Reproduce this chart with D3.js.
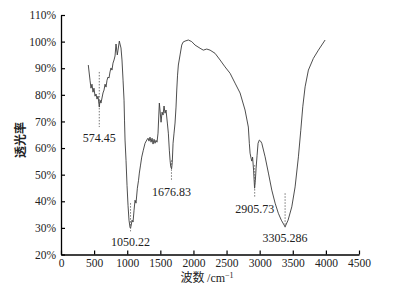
<!DOCTYPE html>
<html><head><meta charset="utf-8">
<script src="https://cdn.jsdelivr.net/npm/d3@7/dist/d3.min.js"></script>
<style>body{margin:0;background:#fff}svg{display:block}</style>
</head><body>
<svg id="c" width="399" height="293"></svg>
<script>
const wavenumber = [412,438,453,468,483,498,514,529,544,559,579,589,604,619,634,650,665,680,695,710,725,740,755,770,785,801,816,831,850,861,881,891,906,921,937,952,959,967,982,997,1012,1027,1042,1050,1057,1073,1088,1103,1118,1133,1153,1171,1183,1201,1219,1243,1269,1295,1314,1329,1344,1360,1375,1390,1405,1420,1435,1450,1465,1485,1495,1511,1526,1541,1556,1571,1586,1606,1621,1636,1647,1657,1670,1680,1692,1707,1722,1737,1748,1760,1772,1798,1823,1843,1873,1923,1974,2024,2100,2149,2201,2251,2326,2402,2477,2553,2628,2704,2779,2829,2844,2855,2870,2881,2893,2908,2923,2935,2946,2961,2976,2995,3014,3032,3082,3132,3183,3233,3282,3327,3384,3429,3485,3535,3585,3621,3651,3686,3736,3811,3887,3988];
const transmittance = [91.2,85.5,82.5,84.0,81.0,82.5,79.5,80.3,78.4,79.5,75.4,78.0,76.9,78.8,80.7,81.8,84.0,82.9,85.5,86.7,86.3,88.6,90.1,89.3,91.9,93.1,94.6,99.1,95.0,96.8,100.2,99.1,97.6,93.1,85.5,78.0,70.5,63.0,55.4,46.0,38.5,32.9,30.2,29.9,30.6,32.9,32.2,36.6,40.4,39.3,44.9,47.9,50.6,53.6,56.6,59.2,61.8,63.0,63.7,62.6,64.1,62.2,63.7,61.5,63.3,61.8,62.9,62.2,65.6,76.9,74.3,69.7,73.5,72.4,75.8,73.1,74.3,69.4,65.6,59.2,55.4,53.0,52.2,54.5,61.8,65.6,69.4,75.4,81.8,87.4,91.2,95.0,98.7,99.8,100.2,100.6,100.0,98.7,97.5,96.8,97.2,96.8,95.6,93.1,90.5,88.1,84.4,80.7,74.3,67.9,61.8,58.1,56.2,55.1,56.6,51.7,44.9,47.9,52.4,57.3,61.8,63.0,62.6,61.8,56.7,50.6,44.2,39.3,35.5,32.9,30.4,32.9,37.9,45.4,56.7,66.7,75.5,83.0,89.3,93.7,96.8,100.6];

const peakLabels = ["574.45","1050.22","1676.83","2905.73","3305.286"];
const peakX = [578,1050,1668,2925,3384];
const peakTop = [88.6,39.3,55.4,53.6,43.0];
const peakBottom = [67.9,28.7,47.5,41.2,30.2];

const xTicks = [0,500,1000,1500,2000,2500,3000,3500,4000,4500];
const yTicks = [20,30,40,50,60,70,80,90,100,110];

const svg = d3.select("#c");
const x = d3.scaleLinear().domain([0,4500]).range([61,359]);
const y = d3.scaleLinear().domain([20,110]).range([254.5,15]);
const serif = "'Liberation Serif','Times New Roman',serif";

// curve
const pts = wavenumber.map((w,i)=>[w,transmittance[i]]);
svg.append("path").datum(pts)
  .attr("d", d3.line().x(d=>x(d[0])).y(d=>y(d[1])))
  .attr("fill","none").attr("stroke","#3a3a3a").attr("stroke-width",0.9);

// annotations
peakLabels.forEach((lab,i)=>{
  svg.append("line")
    .attr("x1",x(peakX[i])).attr("x2",x(peakX[i]))
    .attr("y1",y(peakTop[i])).attr("y2",y(peakBottom[i]))
    .attr("stroke","#555").attr("stroke-width",0.8).attr("stroke-dasharray","1.5,1.5");
  svg.append("text").attr("x",x(peakX[i])).attr("y",y(peakBottom[i])+15)
    .attr("text-anchor","middle").attr("font-family",serif).attr("font-size",12)
    .attr("fill","#222").text(lab);
});

// axes
const xa = svg.append("g").attr("transform","translate(0,254.5)")
  .call(d3.axisBottom(x).tickValues(xTicks).tickSizeInner(-4).tickSizeOuter(0).tickPadding(4).tickFormat(d3.format("d")));
const ya = svg.append("g").attr("transform","translate(61,0)")
  .call(d3.axisLeft(y).tickValues(yTicks).tickSizeInner(-4).tickSizeOuter(0).tickPadding(5).tickFormat(d=>d+"%"));
[xa,ya].forEach(g=>{
  g.select(".domain").attr("stroke","#000").attr("stroke-width",1.3);
  g.selectAll(".tick line").attr("stroke","#000").attr("stroke-width",1.2);
  g.selectAll("text").attr("font-family",serif).attr("font-size",11.5).attr("fill","#222");
});

// axis titles
const xt = svg.append("text").attr("x",207).attr("y",282).attr("text-anchor","middle")
  .attr("font-size",12).attr("fill","#222");
xt.append("tspan").attr("font-family","'Noto Sans CJK SC'").text("波数 ");
xt.append("tspan").attr("font-family",serif).text("/cm");
xt.append("tspan").attr("font-family",serif).attr("font-size",8).attr("dy",-4).text("−1");

svg.append("text").attr("transform","translate(25,140) rotate(-90)")
  .attr("text-anchor","middle").attr("font-family","'Noto Sans CJK SC'")
  .attr("font-size",12).attr("font-weight","bold").attr("fill","#222").text("透光率");
</script>
</body></html>
